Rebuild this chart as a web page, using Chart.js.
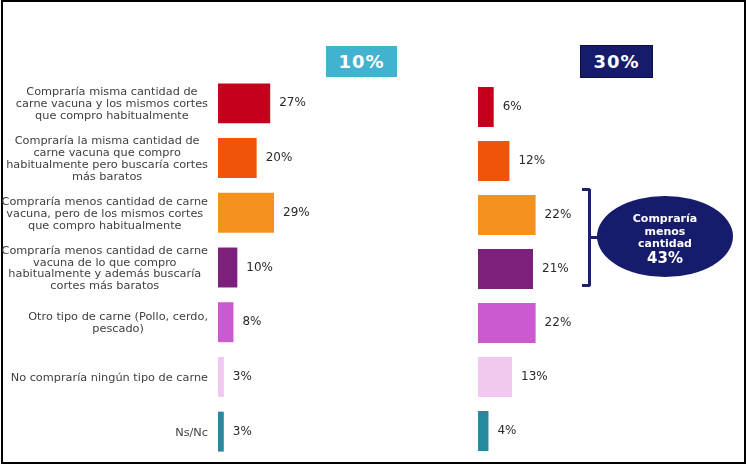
<!DOCTYPE html>
<html>
<head>
<meta charset="utf-8">
<script src="https://cdn.jsdelivr.net/npm/chart.js@4"></script>
<style>
  body { margin: 0; background: #fff; font-family: "DejaVu Sans", Verdana, sans-serif; }
  #marco { position: absolute; left: 1px; top: 0; width: 745px; height: 464px; border: 2px solid #000; box-sizing: border-box; }
  .caja { position: absolute; color: #fff; font-weight: bold; font-size: 18px; text-align: center; box-sizing: border-box; letter-spacing: 1px; }
  #cajaIzq { left: 326px; top: 46px; width: 71px; height: 31px; line-height: 31px; background: #41b3cf; }
  #cajaDer { left: 580px; top: 45px; width: 73px; height: 33px; line-height: 31px; background: #161b6b; border: 1px solid #0b0f45; }
  .panel { position: absolute; }
  #panelIzq { left: 0; top: 76px; width: 340px; height: 383px; }
  #panelDer { left: 478px; top: 80px; width: 110px; height: 378px; }
  #llave { position: absolute; left: 582px; top: 188px; width: 9px; height: 99px; border: 3px solid #1a1f6e; border-left: none; border-radius: 0 3px 3px 0; box-sizing: border-box; }
  #llaveMedio { position: absolute; left: 590px; top: 236px; width: 10px; height: 3px; background: #1a1f6e; }
  #ovalo { position: absolute; left: 597px; top: 196px; width: 136px; height: 81px; border-radius: 50%; background: #161b6b; color: #fff; font-weight: bold; text-align: center; }
  #ovalo .l { position: absolute; left: 0; width: 100%; font-size: 11px; line-height: 12px; }
  #ovalo .g { font-size: 15px; line-height: 16px; }
</style>
</head>
<body>
<div id="marco"></div>
<div class="caja" id="cajaIzq"></div>
<div class="caja" id="cajaDer"></div>
<div class="panel" id="panelIzq"><canvas id="graficoIzq"></canvas></div>
<div class="panel" id="panelDer"><canvas id="graficoDer"></canvas></div>
<div id="llave"></div>
<div id="llaveMedio"></div>
<div id="ovalo"></div>
<script>
// categorias (cada una partida en lineas como en la lamina)
var categorias = [
  ['Compraría misma cantidad de', 'carne vacuna y los mismos cortes', 'que compro habitualmente'],
  ['Compraría la misma cantidad de', 'carne vacuna que compro', 'habitualmente pero buscaría cortes', 'más baratos'],
  ['Compraría menos cantidad de carne', 'vacuna, pero de los mismos cortes', 'que compro habitualmente'],
  ['Compraría menos cantidad de carne', 'vacuna de lo que compro', 'habitualmente y además buscaría', 'cortes más baratos'],
  ['Otro tipo de carne (Pollo, cerdo,', 'pescado)'],
  ['No compraría ningún tipo de carne'],
  ['Ns/Nc']
]
var valores10 = [27, 20, 29, 10, 8, 3, 3]
var valores30 = [6, 12, 22, 21, 22, 13, 4]
var colores = ['#c4001c', '#f0540a', '#f5921f', '#7b217b', '#cb59d0', '#f0c8f0', '#268a9f']
var titulos = ['10%', '30%']
var resumen = ['Compraría', 'menos', 'cantidad', '43%']

document.getElementById('cajaIzq').textContent = titulos[0]
document.getElementById('cajaDer').textContent = titulos[1]

// ovalo de resumen
var ovalo = document.getElementById('ovalo')
var centros = [23, 36, 48, 62]
resumen.forEach(function (t, i) {
  var d = document.createElement('div')
  d.className = 'l' + (i == 3 ? ' g' : '')
  d.style.top = (centros[i] - (i == 3 ? 8 : 6)) + 'px'
  d.textContent = t
  ovalo.appendChild(d)
})

// valores al lado de cada barra
var etiquetasValor = {
  id: 'etiquetasValor',
  afterDatasetsDraw(chart) {
    var ctx = chart.ctx
    var meta = chart.getDatasetMeta(0)
    ctx.save()
    ctx.font = '12px "DejaVu Sans"'
    ctx.fillStyle = '#2a2a2a'
    ctx.textBaseline = 'middle'
    ctx.textAlign = 'left'
    meta.data.forEach(function (bar, i) {
      ctx.fillText(chart.data.datasets[0].data[i] + '%', bar.x + 9, bar.y)
    })
    ctx.restore()
  }
}

// textos de categoria: bloque alineado a la derecha, lineas centradas
var etiquetasCat = {
  id: 'etiquetasCat',
  afterDraw(chart) {
    var ctx = chart.ctx
    var y = chart.scales.y
    var borde = 208
    var alto = 11.8
    ctx.save()
    ctx.font = '11.3px "DejaVu Sans"'
    ctx.fillStyle = '#404040'
    ctx.textBaseline = 'middle'
    ctx.textAlign = 'center'
    categorias.forEach(function (lineas, i) {
      var ancho = 0
      lineas.forEach(function (l) { ancho = Math.max(ancho, ctx.measureText(l).width) })
      var cy = y.getPixelForValue(i) + 1
      var y0 = cy - (lineas.length - 1) * alto / 2
      lineas.forEach(function (l, j) {
        ctx.fillText(l, borde - ancho / 2, y0 + j * alto)
      })
    })
    ctx.restore()
  }
}

function crear(id, valores, max, padIzq, padDer, porc, extras) {
  return new Chart(document.getElementById(id), {
    type: 'bar',
    data: {
      labels: categorias,
      datasets: [{
        data: valores,
        backgroundColor: colores,
        barPercentage: porc,
        categoryPercentage: 1
      }]
    },
    options: {
      indexAxis: 'y',
      animation: false,
      responsive: true,
      maintainAspectRatio: false,
      layout: { padding: { left: padIzq, right: padDer, top: 0, bottom: 0 } },
      scales: {
        x: { display: false, min: 0, max: max },
        y: { display: false }
      },
      plugins: { legend: { display: false }, tooltip: { enabled: false } }
    },
    plugins: extras
  })
}

crear('graficoIzq', valores10, 60, 218, 6, 0.73, [etiquetasValor, etiquetasCat])
crear('graficoDer', valores30, 42, 0, 0, 0.74, [etiquetasValor])
</script>
</body>
</html>
